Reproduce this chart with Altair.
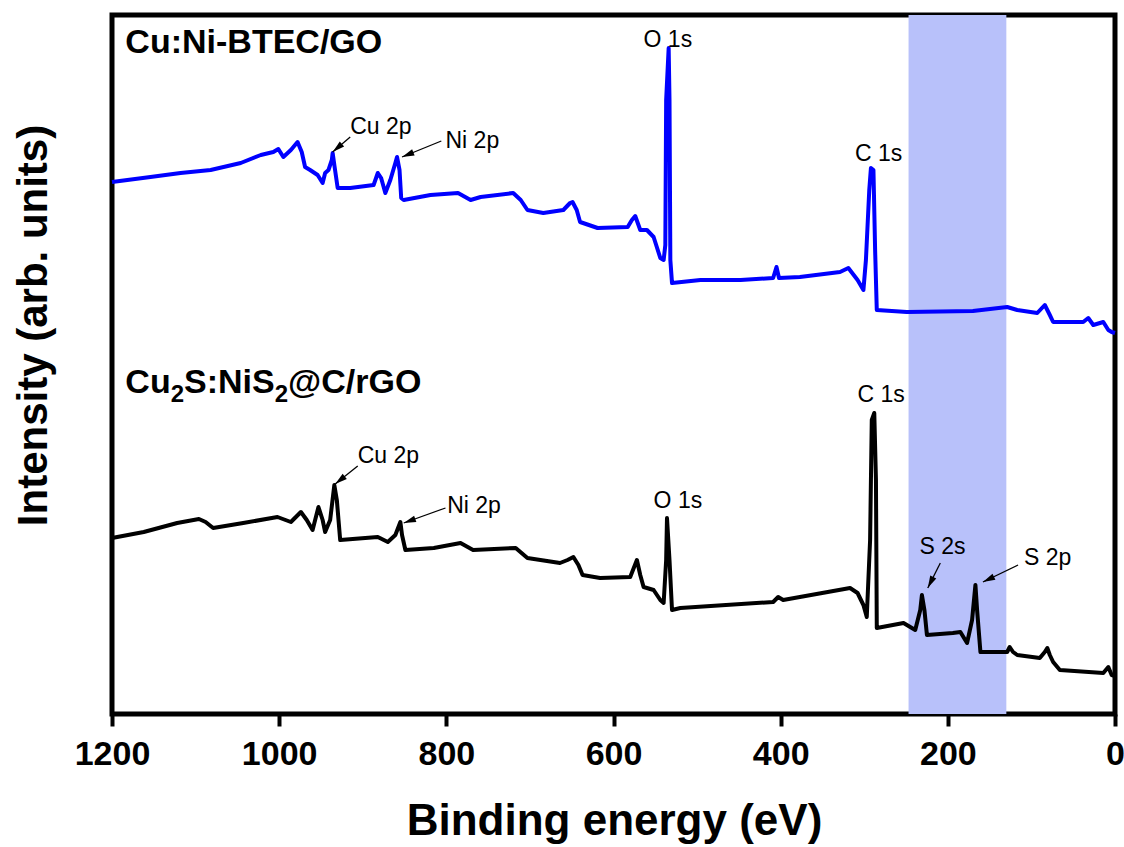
import math
import altair as alt
import pandas as pd

# ---------------- data ----------------
# Cu:Ni-BTEC/GO (blue)
go_energy = [1200, 1154, 1118, 1082, 1046, 1022, 1007, 1001, 995, 986, 978, 973, 969, 963,
             954, 948, 945, 941, 937, 936, 934, 930, 915, 887, 882, 878, 873, 867, 861, 859,
             856, 854, 851, 819, 786, 771, 759, 720, 711, 703, 684, 660, 652, 649, 644, 640,
             619, 583, 578, 574, 568, 560, 552, 544, 540, 538, 537, 534, 533, 532, 530, 496,
             448, 409, 405, 402, 377, 329, 319, 308, 301, 298, 294, 292, 289, 287, 285, 249,
             170, 129, 117, 93, 84, 78, 74, 38, 32, 26, 14, 8, 4, 0]
go_intensity = [532, 537, 541, 544, 551, 559, 562, 565, 557, 564, 572, 562, 547, 544,
                539, 531, 541, 544, 554, 561, 549, 526, 526, 529, 541, 536, 521, 534, 551, 557,
                544, 516, 514, 519, 521, 514, 517, 521, 514, 504, 501, 504, 511, 512, 504, 492,
                486, 487, 494, 498, 484, 484, 477, 456, 454, 469, 614, 666, 614, 454, 431, 434,
                434, 436, 447, 436, 437, 442, 446, 434, 424, 454, 524, 546, 544, 464, 404, 402,
                403, 407, 404, 401, 409, 399, 392, 392, 396, 389, 392, 384, 382, 381]

# Cu2S:NiS2@C/rGO (black)
rgo_energy = [1200, 1162, 1122, 1096, 1088, 1079, 1043, 1002, 986, 974, 967, 960, 953, 948,
              945, 939, 934, 931, 927, 882, 870, 861, 855, 853, 849, 815, 783, 768, 717, 703,
              664, 655, 648, 642, 637, 616, 580, 572, 568, 564, 552, 544, 540, 537, 536, 533,
              530, 520, 409, 403, 397, 317, 308, 301, 297, 293, 291, 288, 286, 285, 253, 239,
              233, 231, 228, 225, 194, 185, 177, 171, 167, 165, 161, 129, 126, 122, 117, 90,
              84, 81, 78, 74, 66, 14, 8, 4, 0]
rgo_intensity = [176, 182, 191, 195, 192, 186, 191, 197, 192, 202, 194, 184, 207, 194,
                 182, 194, 229, 214, 174, 177, 172, 179, 192, 179, 164, 166, 171, 164, 166, 156,
                 151, 154, 157, 149, 139, 136, 137, 154, 139, 127, 124, 114, 111, 154, 196, 154,
                 104, 106, 112, 117, 114, 126, 121, 109, 97, 174, 294, 301, 234, 86, 91, 84,
                 104, 119, 104, 79, 81, 82, 71, 94, 129, 104, 62, 62, 67, 62, 59, 56,
                 62, 66, 59, 52, 44, 41, 47, 39, 38]

series_names = ["Cu:Ni-BTEC/GO", "Cu2S:NiS2@C/rGO"]
series_colors = ["#0000ff", "#000000"]

# highlighted energy window
band_start = [247]
band_end = [130]

# peak labels
peak_labels = ["O 1s", "C 1s", "Cu 2p", "Ni 2p", "C 1s", "O 1s", "S 2s", "S 2p", "Cu 2p", "Ni 2p"]
peak_label_energy = [564, 311, 915, 801, 308, 552, 234, 109, 906, 799]
peak_label_intensity = [667, 553, 580, 566, 312, 206, 160, 149, 251, 201]

# arrows (tail -> head)
arrow_tail_energy = [915, 806, 906, 801, 209, 116]
arrow_tail_intensity = [577, 573, 248, 206, 151, 149]
arrow_head_energy = [936, 853, 933, 851, 224, 158]
arrow_head_intensity = [562, 557, 230, 191, 126, 132]

# sample names
sample_title_energy = [1184, 1184]
sample_title_intensity = [661, 321]

x_ticks = [1200, 1000, 800, 600, 400, 200, 0]

# ---------------- layout ----------------
W, H = 1003, 699
X_MAX, Y_MAX = 1200, 699
FONT = "Liberation Sans, Arial, sans-serif"

xscale = alt.Scale(domain=[0, X_MAX], reverse=True, nice=False, zero=False)
yscale = alt.Scale(domain=[0, Y_MAX], nice=False, zero=False)
xaxis = alt.Axis(values=x_ticks, format="d", title="Binding energy (eV)",
                 titleFontSize=44, titleFontWeight="bold", titleFont=FONT, titleColor="black",
                 labelFontSize=34, labelFontWeight="bold", labelFont=FONT, labelColor="black",
                 tickSize=12, tickWidth=4, tickColor="black", domain=False, grid=False,
                 labelPadding=11, labelFlush=False, labelOverlap=False,
                 titleX=502, titleY=120, titleBaseline="alphabetic", titleAlign="center")
yaxis = alt.Axis(title="Intensity (arb. units)", labels=False, ticks=False, domain=False, grid=False,
                 titleFontSize=42, titleFontWeight="bold", titleFont=FONT, titleColor="black",
                 titleAngle=270, titleX=-66, titleY=310, titleBaseline="alphabetic",
                 titleAlign="center")


def X(field):
    return alt.X(field, type="quantitative", scale=xscale, axis=xaxis)


def Y(field):
    return alt.Y(field, type="quantitative", scale=yscale, axis=yaxis)


# ---------------- tables ----------------
rows = []
for i, (e, v) in enumerate(zip(go_energy, go_intensity)):
    rows.append({"E": e, "I": v, "series": series_names[0], "o": i})
for i, (e, v) in enumerate(zip(rgo_energy, rgo_intensity)):
    rows.append({"E": e, "I": v, "series": series_names[1], "o": i})
lines_df = pd.DataFrame(rows)

band_df = pd.DataFrame({"E1": band_start, "E2": band_end})
labels_df = pd.DataFrame({"E": peak_label_energy, "I": peak_label_intensity, "t": peak_labels})

arrow_rows = []
for te, ti, he, hi in zip(arrow_tail_energy, arrow_tail_intensity, arrow_head_energy, arrow_head_intensity):
    dx = -(he - te) * W / X_MAX
    dy = -(hi - ti) * H / Y_MAX
    ang = math.degrees(math.atan2(dx, -dy)) % 360
    arrow_rows.append({"E1": te, "I1": ti, "E2": he, "I2": hi, "ang": ang})
arrows_df = pd.DataFrame(arrow_rows)

# ---------------- layers ----------------
band = alt.Chart(band_df).mark_rect(color="#b8c1fa", opacity=1).encode(
    x=X("E1"), x2="E2", y=alt.value(0), y2=alt.value(H))

lines = alt.Chart(lines_df).mark_line(strokeWidth=4, strokeJoin="round").encode(
    x=X("E"), y=Y("I"),
    color=alt.Color("series:N", scale=alt.Scale(domain=series_names, range=series_colors), legend=None),
    order="o:Q")

labels = alt.Chart(labels_df).mark_text(align="left", baseline="alphabetic", fontSize=23,
                                        font=FONT, color="black").encode(
    x=X("E"), y=Y("I"), text="t:N")

shafts = alt.Chart(arrows_df).mark_rule(color="black", strokeWidth=1.3).encode(
    x=X("E1"), y=Y("I1"), x2="E2", y2="I2")

heads = alt.Chart(arrows_df).mark_point(shape="M0,0L0.55,2L-0.55,2Z", size=150, filled=True,
                                        color="black", opacity=1, strokeWidth=0).encode(
    x=X("E2"), y=Y("I2"), angle=alt.Angle("ang:Q", scale=None))

# sample names
BOLD_W = {"C": .722, "u": .611, "2": .556, "S": .667, ":": .333, "N": .722, "i": .278,
          "@": .975, "/": .278, "r": .389, "G": .778, "O": .778}
MAIN_FS, SUB_FS = 34, 24

t1_df = pd.DataFrame({"E": [sample_title_energy[0]], "I": [sample_title_intensity[0]], "t": ["Cu:Ni-BTEC/GO"]})
title1 = alt.Chart(t1_df).mark_text(align="left", baseline="alphabetic", fontSize=MAIN_FS,
                                    fontWeight="bold", font=FONT, color="black").encode(
    x=X("E"), y=Y("I"), text="t:N")

t2_df = pd.DataFrame({"E": [sample_title_energy[1]], "I": [sample_title_intensity[1]]})
parts = [("Cu", False), ("2", True), ("S:NiS", False), ("2", True), ("@C/rGO", False)]
title2_layers = []
off = 0.0
for txt, sub in parts:
    fs = SUB_FS if sub else MAIN_FS
    title2_layers.append(
        alt.Chart(t2_df).mark_text(align="left", baseline="alphabetic", fontSize=fs, fontWeight="bold",
                                   font=FONT, color="black", dx=off, dy=(9 if sub else 0),
                                   text=txt).encode(x=X("E"), y=Y("I")))
    off += sum(BOLD_W.get(c, .6) for c in txt) * fs

chart = alt.layer(band, lines, shafts, heads, labels, title1, *title2_layers).properties(
    width=W, height=H,
    padding={"left": 112, "top": 15, "right": 9, "bottom": 133},
    autosize=alt.AutoSizeParams(type="none"),
    background="white",
).configure_view(stroke="black", strokeWidth=5)

chart.save("out.html", embed_options={"renderer": "svg", "actions": False})
